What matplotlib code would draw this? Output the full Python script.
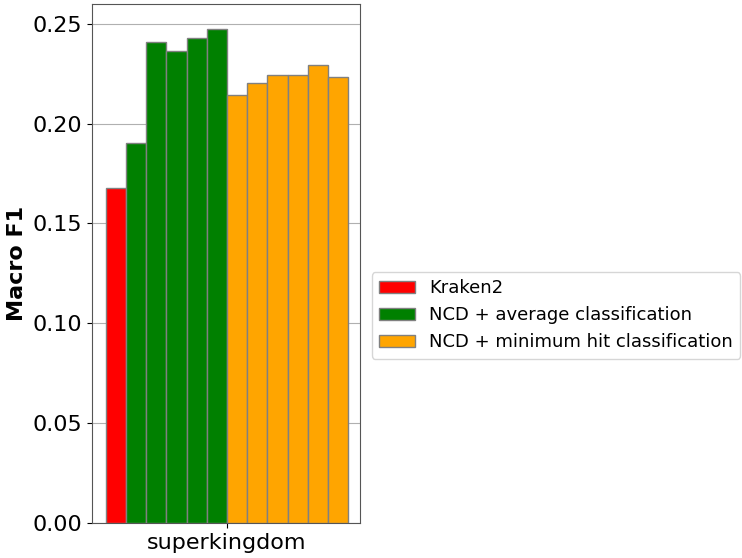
import matplotlib
matplotlib.use("Agg")
import matplotlib.pyplot as plt
import numpy as np

category = "superkingdom"
kraken2 = [0.168]
ncd_average = [0.1905, 0.2408, 0.2366, 0.2427, 0.2473]
ncd_minhit = [0.2144, 0.2206, 0.2245, 0.2245, 0.2295, 0.2234]

series = [
    ("Kraken2", kraken2, "red"),
    ("NCD + average classification", ncd_average, "green"),
    ("NCD + minimum hit classification", ncd_minhit, "orange"),
]

fig = plt.figure(figsize=(7.42, 5.58), dpi=100)
ax = fig.add_axes([0.124, 0.063, 0.361, 0.930])

n_total = sum(len(v) for _, v, _ in series)
w = 1.0
idx = 0
for label, vals, color in series:
    for j, v in enumerate(vals):
        left = (idx - n_total / 2) * w
        ax.bar(left, v, width=w, align="edge", color=color, edgecolor="grey",
               linewidth=1, label=label if j == 0 else None, zorder=3)
        idx += 1

ax.set_xlim(-n_total / 2 * w - 0.68, n_total / 2 * w + 0.58)
ax.set_ylim(0, 0.26)
ax.set_xticks([0])
ax.set_xticklabels([category], fontsize=16)
ax.set_yticks([0, 0.05, 0.10, 0.15, 0.20, 0.25])
ax.tick_params(axis="y", labelsize=16)
ax.yaxis.grid(True, color="#b0b0b0", linewidth=0.8, zorder=0)
ax.set_axisbelow(True)
ax.set_ylabel("Macro F1", fontsize=16, fontweight="bold")
for s in ax.spines.values():
    s.set_color("#555555")

ax.legend(loc="center left", bbox_to_anchor=(1.01, 0.40), fontsize=13)

fig.savefig("out.png", dpi=100)
